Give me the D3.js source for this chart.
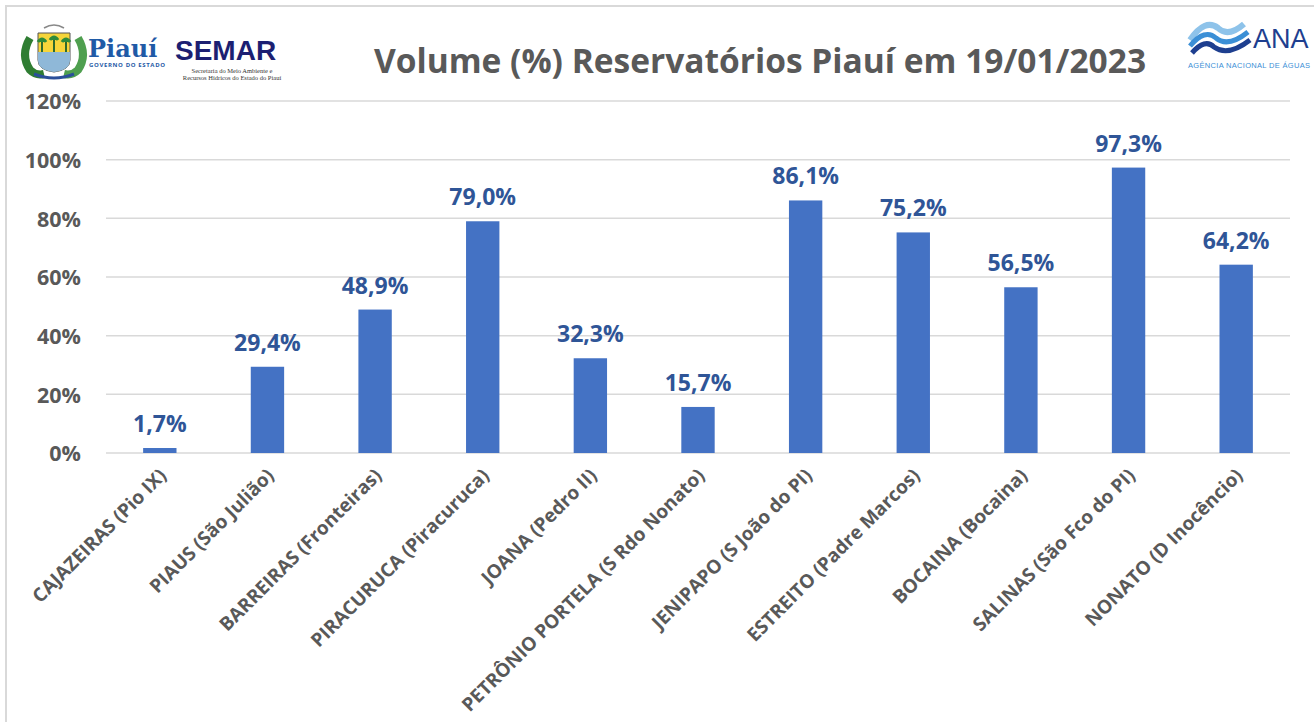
<!DOCTYPE html>
<html>
<head>
<meta charset="utf-8">
<script src="https://cdn.jsdelivr.net/npm/d3@7"></script>
<style>
body { margin: 0; background: #fff; }
text { font-family: "Open Sans", sans-serif; }
.axis path, .axis line { display: none; }
.y.axis text { fill: #595959; font-size: 21.5px; font-weight: bold; }
.grid line { stroke: #d9d9d9; stroke-width: 1.5; }
</style>
</head>
<body>
<div class="main"></div>
<script>
var width = 1314, height = 722;
var margin = {top: 101, right: 24, bottom: 269, left: 106};

// data
var reservoirs = ["CAJAZEIRAS (Pio IX)", "PIAUS (São Julião)", "BARREIRAS (Fronteiras)",
  "PIRACURUCA (Piracuruca)", "JOANA (Pedro II)", "PETRÔNIO PORTELA (S Rdo Nonato)",
  "JENIPAPO (S João do PI)", "ESTREITO (Padre Marcos)", "BOCAINA (Bocaina)",
  "SALINAS (São Fco do PI)", "NONATO (D Inocêncio)"];
var volume = [1.7, 29.4, 48.9, 79.0, 32.3, 15.7, 86.1, 75.2, 56.5, 97.3, 64.2];
var yTicks = [0, 20, 40, 60, 80, 100, 120];

var svg = d3.select(".main")
  .append("svg")
  .attr("width", width)
  .attr("height", height);

svg.append("rect").attr("width", width).attr("height", height).attr("fill", "#fff");

// frame (top and left only, the rest is cropped)
svg.append("path")
  .attr("d", "M6,722 V6 H1314")
  .attr("fill", "none")
  .attr("stroke", "#d9d9d9")
  .attr("stroke-width", 2);

var x = d3.scaleBand()
  .domain(reservoirs)
  .range([margin.left, width - margin.right])
  .paddingInner(0.69)
  .paddingOuter(0.345);

var y = d3.scaleLinear()
  .domain([0, 120])
  .range([height - margin.bottom, margin.top]);

// gridlines
svg.append("g")
  .attr("class", "grid")
  .selectAll("line")
  .data(yTicks)
  .enter().append("line")
  .attr("x1", margin.left)
  .attr("x2", width - margin.right)
  .attr("y1", function(d) { return y(d); })
  .attr("y2", function(d) { return y(d); });

// y axis
svg.append("g")
  .attr("class", "y axis")
  .attr("transform", "translate(" + (margin.left - 25) + ",0)")
  .call(d3.axisLeft(y).tickValues(yTicks).tickSize(0).tickPadding(0)
    .tickFormat(function(d) { return d + "%"; }))
  .selectAll("text").attr("dy", "0.36em");

// bars
svg.selectAll(".bar")
  .data(volume)
  .enter().append("rect")
  .attr("class", "bar")
  .attr("x", function(d, i) { return x(reservoirs[i]); })
  .attr("width", x.bandwidth())
  .attr("y", function(d) { return y(d); })
  .attr("height", function(d) { return y(0) - y(d); })
  .attr("fill", "#4472c4");

// value labels
svg.selectAll(".val")
  .data(volume)
  .enter().append("text")
  .attr("class", "val")
  .attr("x", function(d, i) { return x(reservoirs[i]) + x.bandwidth() / 2; })
  .attr("y", function(d) { return y(d) - 16; })
  .attr("text-anchor", "middle")
  .attr("fill", "#2f5597")
  .style("font-size", "23px")
  .style("font-weight", "bold")
  .text(function(d) { return d.toFixed(1).replace(".", ",") + "%"; });

// category labels
svg.selectAll(".cat")
  .data(reservoirs)
  .enter().append("text")
  .attr("class", "cat")
  .attr("transform", function(d) {
    return "translate(" + (x(d) + x.bandwidth() / 2 + 3) + "," + (y(0) + 19) + ") rotate(-45)";
  })
  .attr("text-anchor", "end")
  .attr("dy", "0.35em")
  .attr("fill", "#595959")
  .style("font-size", "19px")
  .style("font-weight", "bold")
  .text(function(d) { return d; });

// title
svg.append("text")
  .attr("x", 760)
  .attr("y", 73)
  .attr("text-anchor", "middle")
  .attr("fill", "#595959")
  .style("font-size", "33.5px")
  .style("font-weight", "bold")
  .text("Volume (%) Reservatórios Piauí em 19/01/2023");

// Piauí crest (rough)
var crest = svg.append("g");
crest.append("path").attr("d", "M30,38 Q20,55 30,70 Q36,76 44,74").attr("fill", "none").attr("stroke", "#2f7d32").attr("stroke-width", 8);
crest.append("path").attr("d", "M78,38 Q88,55 78,70 Q72,76 64,74").attr("fill", "none").attr("stroke", "#4f9f4f").attr("stroke-width", 8);
crest.append("path").attr("d", "M38,33 H70 V60 Q70,70 54,72 Q38,70 38,60 Z").attr("fill", "#f6d53a").attr("stroke", "#555").attr("stroke-width", 1);
crest.append("path").attr("d", "M38,52 H70 V60 Q70,70 54,72 Q38,70 38,60 Z").attr("fill", "#8fb8d8");
crest.append("path").attr("d", "M42,52 V42 M54,52 V40 M66,52 V42").attr("stroke", "#2e6b2e").attr("stroke-width", 2);
crest.append("path").attr("d", "M38,42 Q42,36 46,42 M50,40 Q54,34 58,40 M62,42 Q66,36 70,42").attr("fill", "#2e8b3a").attr("stroke", "#2e8b3a").attr("stroke-width", 3);
crest.append("path").attr("d", "M34,74 Q54,82 74,74").attr("fill", "none").attr("stroke", "#2a4f9a").attr("stroke-width", 3);
crest.append("path").attr("d", "M44,28 Q54,22 64,28").attr("fill", "none").attr("stroke", "#888").attr("stroke-width", 1.5);

svg.append("text").attr("x", 88).attr("y", 57)
  .style("font-family", "'DejaVu Serif', serif").style("font-size", "24px").style("font-weight", "bold")
  .attr("fill", "#1f5aa6").text("Piauí");
svg.append("text").attr("x", 89).attr("y", 67)
  .attr("textLength", 76)
  .style("font-size", "6px").style("font-weight", "bold").attr("fill", "#1f5aa6")
  .text("GOVERNO DO ESTADO");
svg.append("text").attr("x", 175).attr("y", 60)
  .style("font-family", "'Liberation Sans', sans-serif").style("font-size", "28px").style("font-weight", "bold")
  .attr("fill", "#1c1f72").text("SEMAR");
svg.append("text").attr("x", 232).attr("y", 73).attr("text-anchor", "middle")
  .style("font-family", "'Liberation Serif', serif").style("font-size", "6.5px").attr("fill", "#333")
  .text("Secretaria do Meio Ambiente e");
svg.append("text").attr("x", 232).attr("y", 80).attr("text-anchor", "middle")
  .style("font-family", "'Liberation Serif', serif").style("font-size", "6.5px").attr("fill", "#333")
  .text("Recursos Hídricos do Estado do Piauí");

// ANA logo (rough)
var ana = svg.append("g");
ana.append("path").attr("d", "M1190,40 Q1205,18 1218,28 Q1228,38 1244,24").attr("fill", "none").attr("stroke", "#8ec3ea").attr("stroke-width", 6);
ana.append("path").attr("d", "M1190,46 Q1205,28 1216,38 Q1228,48 1248,32").attr("fill", "none").attr("stroke", "#3b8fd6").attr("stroke-width", 5);
ana.append("path").attr("d", "M1192,53 Q1205,38 1214,47 Q1228,57 1250,40").attr("fill", "none").attr("stroke", "#1e3f8f").attr("stroke-width", 5);
svg.append("text").attr("x", 1253).attr("y", 48)
  .style("font-family", "'Liberation Sans', sans-serif").style("font-size", "27px")
  .attr("fill", "#1e3f8f").text("ANA");
svg.append("text").attr("x", 1188).attr("y", 68)
  .attr("textLength", 122)
  .style("font-family", "'Liberation Sans', sans-serif").style("font-size", "7.5px")
  .attr("fill", "#3b8fd6").text("AGÊNCIA NACIONAL DE ÁGUAS");
</script>
</body>
</html>
